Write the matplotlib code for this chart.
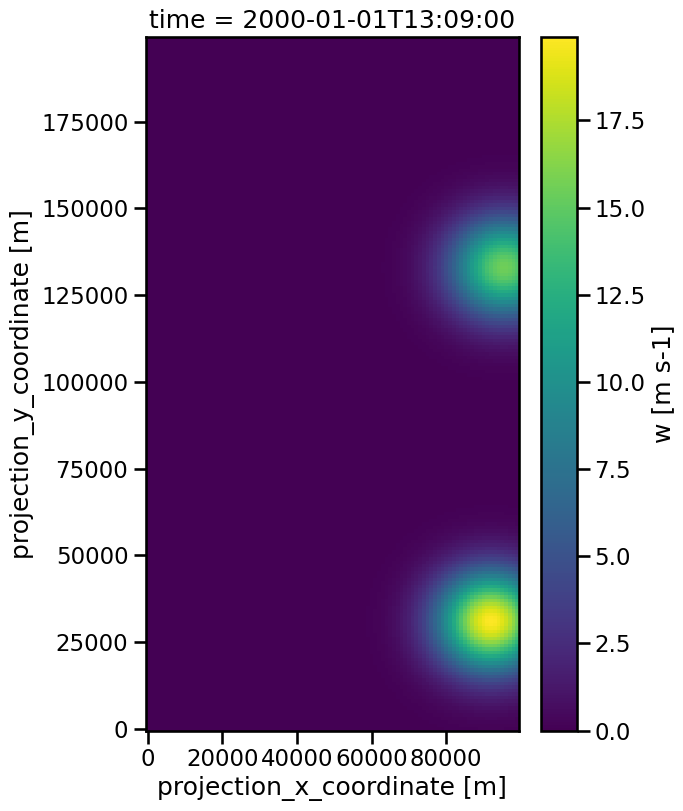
import numpy as np
import matplotlib
matplotlib.use('Agg')
import matplotlib.pyplot as plt
import seaborn as sns

# grid (m)
x_coords = np.arange(0, 100000, 1000)
y_coords = np.arange(0, 200000, 1000)

# blobs: centre x, centre y, peak w, width
blob_x = [92000, 95500]
blob_y = [31000, 133000]
blob_peak = [19.9, 15.5]
blob_sigma = [10000, 10000]

title_text = 'time = 2000-01-01T13:09:00'


def make_field():
    xx, yy = np.meshgrid(x_coords, y_coords)
    w = np.zeros(xx.shape)
    for bx, by, amp, sig in zip(blob_x, blob_y, blob_peak, blob_sigma):
        w += amp * np.exp(-((xx - bx)**2 + (yy - by)**2) / (2 * sig**2))
    return w


def plot_field():
    sns.set_context('talk')
    w = make_field()

    fig = plt.figure(figsize=(6.83, 8.11), dpi=100)
    W, H = 683., 811.
    ax = fig.add_axes([145.7/W, 1 - 730.5/H, (519 - 145.7)/W, (730.5 - 36.7)/H])
    cax = fig.add_axes([540.7/W, 1 - 730.5/H, 36/W, (730.5 - 36.7)/H])

    # pixel edges
    xe = np.append(x_coords - 500, x_coords[-1] + 500)
    ye = np.append(y_coords - 500, y_coords[-1] + 500)
    mesh = ax.pcolormesh(xe, ye, w, cmap='viridis', vmin=0, vmax=w.max())

    ax.set_xticks([0, 20000, 40000, 60000, 80000])
    ax.set_yticks([0, 25000, 50000, 75000, 100000, 125000, 150000, 175000])
    ax.set_xlabel('projection_x_coordinate [m]')
    ax.set_ylabel('projection_y_coordinate [m]')
    ax.set_title(title_text)

    cb = fig.colorbar(mesh, cax=cax)
    cb.set_label('w [m s-1]')

    fig.savefig('out.png', dpi=100)


if __name__ == '__main__':
    plot_field()
